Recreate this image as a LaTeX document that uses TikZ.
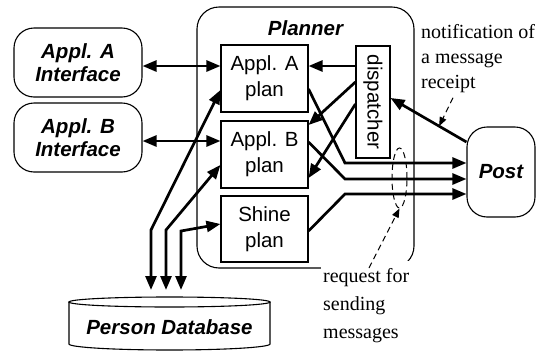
\documentclass[tikz,border=0pt]{standalone}
\usepackage{fontspec}
\setmainfont{Liberation Serif}
\newfontfamily\arial{Liberation Sans}
\usetikzlibrary{arrows.meta,shapes.geometric,calc}
\begin{document}
\begin{tikzpicture}[x=1pt,y=-1pt,
  box/.style={draw, line width=1.1pt, inner sep=0pt},
  rbox/.style={box, rounded corners=20pt},
  sbi/.style={font=\arial\bfseries\itshape\fontsize{20.5}{23}\selectfont, align=center},
  sr/.style={font=\arial\fontsize{20.5}{26}\selectfont, align=center},
  note/.style={align=left, inner sep=0pt},
  arr/.style={line width=2.7pt, -{Triangle[length=14pt,width=11pt]}},
  darr/.style={line width=2.7pt, {Triangle[length=14pt,width=11pt]}-{Triangle[length=14pt,width=11pt]}},
  dasharr/.style={line width=1pt, dash pattern=on 6pt off 4pt, -{Triangle[length=9pt,width=7pt]}}
]
\useasboundingbox (0,0) rectangle (542,354);

% boxes
\node[rbox, sbi, minimum width=128pt, minimum height=69pt] (aint) at (78,62.5) {Appl. A\\Interface};
\node[rbox, sbi, minimum width=128pt, minimum height=69pt] (bint) at (78,137.5) {Appl. B\\Interface};
\node[box, rounded corners=22pt, minimum width=217pt, minimum height=261pt] (planner) at (305.5,137.5) {};
\node[sbi] (ptitle) at (305.5,28) {Planner};
\node[box, sr, minimum width=87pt, minimum height=67pt] (aplan) at (264.5,78.5) {Appl. A\\plan};
\node[box, sr, minimum width=87pt, minimum height=67pt] (bplan) at (264.5,154.5) {Appl. B\\plan};
\node[box, sr, minimum width=87pt, minimum height=66pt] (splan) at (264.5,229) {Shine\\plan};
\node[box, sr, rotate=-90, minimum width=112pt, minimum height=34pt] (disp) at (373,102) {dispatcher};
\node[rbox, sbi, minimum width=68pt, minimum height=90pt] (post) at (501,172) {Post};

% database
\draw[box] (69,302) -- (69,344) arc[start angle=180,end angle=360,x radius=100.5pt,y radius=6pt] -- (270,302);
\draw[box] (169.5,302) ellipse[x radius=100.5pt, y radius=5pt];
\node[sbi] (db) at (169.5,327) {Person Database};
\coordinate (dbtop) at (169.5,290);

% interface arrows
\draw[darr] (aint.east |- 0,66) -- (aplan.west |- 0,66);
\draw[darr] (bint.east |- 0,141) -- (bplan.west |- 0,141);

% dispatcher arrows
\draw[arr] (disp.south |- 0,66) -- (aplan.east |- 0,66);
\draw[arr] (disp.south |- 0,82) -- (bplan.east |- 0,125);
\draw[arr] (disp.south |- 0,104) -- (bplan.east |- 0,178);
\draw[arr] (post.west |- 0,142) -- coordinate[pos=0.36] (rcpt) (disp.north |- 0,98);

% plans to post
\draw[arr] (aplan.east |- 0,89) -- (345,163) -- (post.west |- 0,163);
\draw[arr] (bplan.east |- 0,142) -- (345,179) -- (post.west |- 0,179);
\draw[arr] (splan.east |- 0,231) -- (345,194) -- (post.west |- 0,194);

% database arrows
\draw[darr] (aplan.west |- 0,90) -- (151,230) -- (151,0 |- dbtop);
\draw[darr] (bplan.west |- 0,165) -- (166,230) -- (166,0 |- dbtop);
\draw[darr] (splan.west |- 0,224) -- (181,231) -- (181,0 |- dbtop);

% dashed group
\node[draw, dash pattern=on 6pt off 4pt, ellipse, line width=1pt, minimum width=15pt, minimum height=60pt, inner sep=0pt] (grp) at (399.5,178) {};

% notes
\node[note, font=\fontsize{20}{25}\selectfont, anchor=north west] (notif) at (421,24) {notification of\\a message\\receipt};
\node[note, font=\fontsize{20}{28}\selectfont, anchor=north west, fill=white, inner xsep=2pt, inner ysep=7pt] (req) at (321,261) {request for\\sending\\messages};

\draw[dasharr] ($(req.north west)+(48,7)$) -- (grp.south);
\draw[dasharr] ($(notif.south west)+(32,5)$) -- (rcpt);
\end{tikzpicture}
\end{document}
